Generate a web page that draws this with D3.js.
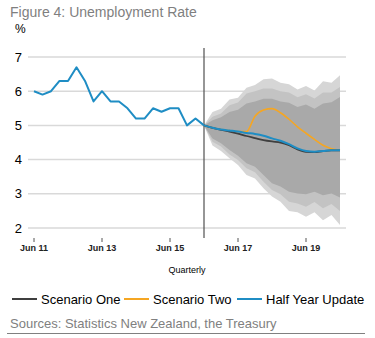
<!DOCTYPE html>
<html><head><meta charset="utf-8">
<script src="https://cdn.jsdelivr.net/npm/d3@7"></script>
<style>body{margin:0;background:#fff;} svg{display:block;font-family:"Liberation Sans",Arial,sans-serif;}</style>
</head><body>
<script>
// Quarterly data, index 0 = Jun 11, index 36 = Jun 20
const xTickLabels = ["Jun 11","Jun 13","Jun 15","Jun 17","Jun 19"];
const xTickIndex = [0, 8, 16, 24, 32];
const yTicks = [2,3,4,5,6,7];
const history = [6.0,5.9,6.0,6.3,6.3,6.7,6.3,5.7,6.0,5.7,5.7,5.5,5.2,5.2,5.5,5.4,5.5,5.5,5.0,5.2,5.0];
const forecastStart = 20;
const halfYearUpdate = [5.0,4.93,4.88,4.85,4.82,4.78,4.75,4.70,4.62,4.55,4.45,4.33,4.25,4.23,4.25,4.27,4.27];
const scenarioOne = [5.0,4.93,4.87,4.82,4.76,4.69,4.63,4.57,4.53,4.50,4.42,4.30,4.23,4.22,4.25,4.27,4.27];
const scenarioTwo = [5.0,4.93,4.88,4.85,4.82,4.82,5.27,5.45,5.49,5.37,5.18,4.96,4.77,4.59,4.42,4.32,4.27];
const outerUpper = [5.0,5.39,5.49,5.76,5.81,6.10,6.18,6.35,6.37,6.25,6.20,6.05,6.15,6.02,6.29,6.25,6.47];
const outerLower = [5.0,4.41,4.25,4.04,3.84,3.55,3.45,3.16,2.92,2.77,2.50,2.46,2.33,2.46,2.23,2.38,2.09];
const midUpper = [5.0,5.25,5.35,5.59,5.67,5.93,6.00,6.08,6.08,6.00,5.96,5.82,5.91,5.79,5.96,5.96,6.12];
const midLower = [5.0,4.52,4.38,4.15,3.99,3.75,3.63,3.35,3.11,2.99,2.77,2.72,2.62,2.76,2.58,2.70,2.50];
const innerUpper = [5.0,5.15,5.24,5.39,5.46,5.64,5.70,5.78,5.78,5.70,5.66,5.54,5.61,5.49,5.64,5.68,5.83];
const innerLower = [5.0,4.62,4.48,4.28,4.11,3.89,3.79,3.55,3.31,3.21,3.06,3.01,2.99,3.06,2.96,3.01,2.89];
const legendNames = ["Scenario One","Scenario Two","Half Year Update"];
const colors = {one:"#3f3f3f", two:"#f5a623", hyu:"#1f8dc4"};

const W=375,H=338;
const svg=d3.select("body").append("svg").attr("width",W).attr("height",H);
const x=d3.scaleLinear().domain([0,36]).range([34,340]);
const y=d3.scaleLinear().domain([2,7]).range([228,57]);

svg.append("text").attr("x",10).attr("y",17).attr("font-size",14).attr("fill","#7f7f7f").text("Figure 4: Unemployment Rate");
svg.append("text").attr("x",15).attr("y",33).attr("font-size",12).attr("fill","#000").text("%");

// gridlines
svg.append("g").selectAll("line").data(yTicks).join("line")
  .attr("x1",28).attr("x2",346).attr("y1",d=>y(d)).attr("y2",d=>y(d))
  .attr("stroke","#d9d9d9").attr("stroke-width",1.5);
svg.append("g").selectAll("text").data(yTicks).join("text")
  .attr("x",22).attr("y",d=>y(d)+4.5).attr("text-anchor","end").attr("font-size",13).attr("fill","#000").text(d=>d);

// fan
const fIdx = d3.range(forecastStart, forecastStart+outerUpper.length);
function band(up,lo,col){
  const area=d3.area().x((d,i)=>x(fIdx[i])).y0((d,i)=>y(lo[i])).y1((d,i)=>y(up[i]));
  svg.append("path").datum(up).attr("d",area).attr("fill",col);
}
band(outerUpper,outerLower,"#d6d6d6");
band(midUpper,midLower,"#c3c3c3");
band(innerUpper,innerLower,"#a9a9a9");

// vertical line
svg.append("line").attr("x1",x(forecastStart)).attr("x2",x(forecastStart)).attr("y1",48).attr("y2",238)
  .attr("stroke","#505050").attr("stroke-width",1.2);

// x ticks
svg.append("g").selectAll("line").data(xTickIndex).join("line")
  .attr("x1",d=>x(d)).attr("x2",d=>x(d)).attr("y1",238).attr("y2",242).attr("stroke","#555").attr("stroke-width",1);
svg.append("g").selectAll("text").data(xTickIndex).join("text")
  .attr("x",d=>x(d)).attr("y",251).attr("text-anchor","middle").attr("font-size",9).attr("font-weight","bold").attr("fill","#222")
  .text((d,i)=>xTickLabels[i]);
svg.append("text").attr("x",187).attr("y",273).attr("text-anchor","middle").attr("font-size",9).attr("fill","#000").text("Quarterly");

// lines
const hl=d3.line().x((d,i)=>x(i)).y(d=>y(d));
svg.append("path").datum(history).attr("d",hl).attr("fill","none").attr("stroke",colors.hyu).attr("stroke-width",2).attr("stroke-linejoin","round");
const fl=d3.line().x((d,i)=>x(fIdx[i])).y(d=>y(d)).curve(d3.curveMonotoneX);
svg.append("path").datum(scenarioTwo).attr("d",fl).attr("fill","none").attr("stroke",colors.two).attr("stroke-width",1.6);
svg.append("path").datum(scenarioOne).attr("d",fl).attr("fill","none").attr("stroke",colors.one).attr("stroke-width",1.8);
svg.append("path").datum(halfYearUpdate).attr("d",fl).attr("fill","none").attr("stroke",colors.hyu).attr("stroke-width",2);

// legend
const lg=[{n:legendNames[0],c:colors.one,x1:12,x2:37,tx:41},{n:legendNames[1],c:colors.two,x1:124,x2:149,tx:153},{n:legendNames[2],c:colors.hyu,x1:237,x2:262,tx:266}];
const g=svg.append("g");
g.selectAll("line").data(lg).join("line").attr("x1",d=>d.x1).attr("x2",d=>d.x2).attr("y1",299).attr("y2",299).attr("stroke",d=>d.c).attr("stroke-width",2);
g.selectAll("text").data(lg).join("text").attr("x",d=>d.tx).attr("y",303.5).attr("font-size",13).attr("fill","#000").text(d=>d.n);

svg.append("text").attr("x",10).attr("y",328).attr("font-size",13).attr("fill","#808080").text("Sources: Statistics New Zealand, the Treasury");
svg.append("line").attr("x1",7).attr("x2",365).attr("y1",333.5).attr("y2",333.5).attr("stroke","#808080").attr("stroke-width",1);
</script>
</body></html>
